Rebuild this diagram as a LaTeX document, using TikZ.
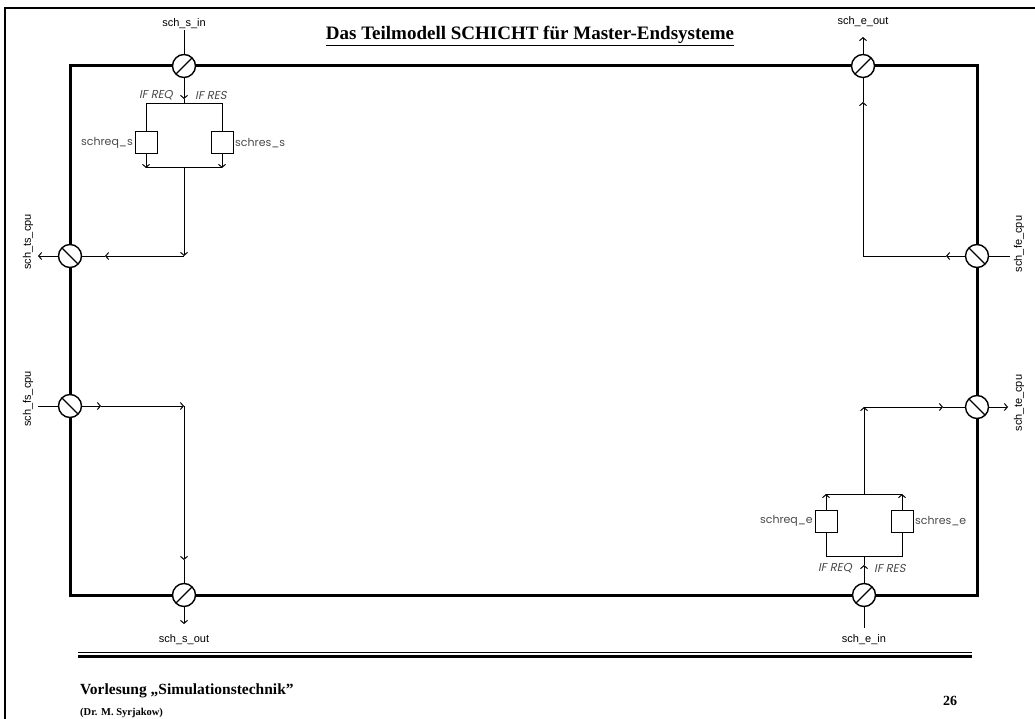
\documentclass[tikz,border=0pt]{standalone}
\usepackage{fontspec}
\setmainfont{Liberation Serif}
\newfontfamily\portfont{Liberation Sans}
\newfontfamily\inlblfont{Poppins}
\newfontfamily\inlblit{Poppins}[FakeSlant=0.2]
\usetikzlibrary{arrows.meta}
\definecolor{lblgray}{HTML}{4A4A4A}
\begin{document}
\begin{tikzpicture}[x=1pt,y=-1pt,
  thinline/.style={line width=1pt},
  arr/.style={thinline,-{Straight Barb[length=3pt,width=7pt]}},
  port/.style={circle,draw,fill=white,minimum size=23pt,inner sep=0pt,line width=1.4pt},
  slashup/.style={port,path picture={\draw[line width=1.3pt]
      (path picture bounding box.south west) -- (path picture bounding box.north east);}},
  slashdown/.style={port,path picture={\draw[line width=1.3pt]
      (path picture bounding box.north west) -- (path picture bounding box.south east);}},
  blk/.style={draw,fill=white,minimum size=22pt,inner sep=0pt,line width=1pt},
  portlbl/.style={font=\portfont\fontsize{11}{13}\selectfont,inner sep=1pt},
  inlbl/.style={font=\inlblfont\fontsize{11}{13}\selectfont,text=lblgray,inner sep=1.5pt},
  iflbl/.style={font=\inlblit\fontsize{11.5}{13}\selectfont,text=lblgray,inner sep=1pt},
  foot/.style={font=\bfseries,inner sep=0pt,anchor=base west}]
\useasboundingbox (0,0) rectangle (1035,719);

% page frame (top and left edges)
\draw[line width=2.2pt] (5,720) -- (5,8) -- (1036,8);

% title
\node[font=\bfseries\fontsize{19}{22}\selectfont,inner sep=0pt,anchor=base] (title) at (530,40)
  {\underline{Das Teilmodell SCHICHT für Master-Endsysteme}};

% outer boundary of the submodel
\draw[line width=3pt] (70,66) rectangle (977,595);

% ports
\node[slashup]   (sin)  at (184,66)  {};
\node[slashdown] (ts)   at (70,256)  {};
\node[slashdown] (fs)   at (70,406)  {};
\node[slashup]   (sout) at (184,595) {};
\node[slashup]   (eout) at (863,66)  {};
\node[slashdown] (fe)   at (977,256) {};
\node[slashdown] (te)   at (977,407) {};
\node[slashup]   (ein)  at (864,595) {};

% port labels
\node[portlbl] (lsin)  at (184,24)  {sch\_s\_in};
\node[portlbl] (lsout) at (184,640) {sch\_s\_out};
\node[portlbl] (leout) at (863,22)  {sch\_e\_out};
\node[portlbl] (lein)  at (864,640) {sch\_e\_in};
\node[portlbl,rotate=90] (lts) at (28,242)   {sch\_ts\_cpu};
\node[portlbl,rotate=90] (lfs) at (28,399)   {sch\_fs\_cpu};
\node[portlbl,rotate=90] (lfe) at (1019,244) {sch\_fe\_cpu};
\node[portlbl,rotate=90] (lte) at (1019,403) {sch\_te\_cpu};

% blocks
\node[blk] (rqs) at (146,143) {};
\node[blk] (rss) at (222,143) {};
\node[blk] (rqe) at (826,521) {};
\node[blk] (rse) at (902,521) {};
\node[inlbl,anchor=east] at (rqs.west) {schreq\_s};
\node[inlbl,anchor=west] at (rss.east) {schres\_s};
\node[inlbl,anchor=east] at (rqe.west) {schreq\_e};
\node[inlbl,anchor=west] at (rse.east) {schres\_e};
\node[iflbl,anchor=east] at (174,95)  {IF REQ};
\node[iflbl,anchor=west] at (194,95)  {IF RES};
\node[iflbl,anchor=east] at (853,568) {IF REQ};
\node[iflbl,anchor=west] at (873,568) {IF RES};

% junction points
\coordinate (sinA) at (184,99);
\coordinate (sp1)  at (184,104);
\coordinate (sp1l) at (146,104);
\coordinate (sp1r) at (222,104);
\coordinate (jl1)  at (146,168);
\coordinate (jr1)  at (222,168);
\coordinate (j1)   at (184,168);
\coordinate (c1)   at (184,256);
\coordinate (c1a)  at (105,256);
\coordinate (tsT)  at (38,256);
\coordinate (fsS)  at (38,406);
\coordinate (fsA)  at (101,406);
\coordinate (c2)   at (184,406);
\coordinate (c2a)  at (184,560);
\coordinate (soutT) at (184,624);
\coordinate (eoutT) at (863,37);
\coordinate (c3)   at (863,256);
\coordinate (c3a)  at (863,102);
\coordinate (feS)  at (1010,256);
\coordinate (feA)  at (946,256);
\coordinate (teT)  at (1008,407);
\coordinate (c4)   at (864,407);
\coordinate (teA)  at (943,407);
\coordinate (j2)   at (864,494);
\coordinate (jl2)  at (826,494);
\coordinate (jr2)  at (902,494);
\coordinate (sp2l) at (826,556);
\coordinate (sp2r) at (902,556);
\coordinate (sp2)  at (864,556);
\coordinate (einA) at (864,565);
\coordinate (einS) at (864,628);

% upper left: incoming requests and responses
\draw[thinline] (lsin.south) -- (sin.north);
\draw[arr] (sin.south) -- (sinA);
\draw[thinline] (sinA) -- (sp1);
\draw[thinline] (rqs.north) -- (sp1l) -- (sp1r) -- (rss.north);
\draw[arr] (rqs.south) -- (jl1);
\draw[arr] (rss.south) -- (jr1);
\draw[thinline] (jl1) -- (jr1);
\draw[arr] (j1) -- (c1);
\draw[arr] (c1) -- (c1a);
\draw[thinline] (c1a) -- (ts.east);
\draw[arr] (ts.west) -- (tsT);

% lower left: from the CPU to the output
\draw[thinline] (fsS) -- (fs.west);
\draw[arr] (fs.east) -- (fsA);
\draw[arr] (fsA) -- (c2);
\draw[arr] (c2) -- (c2a);
\draw[thinline] (c2a) -- (sout.north);
\draw[arr] (sout.south) -- (soutT);

% upper right: from the CPU to the output
\draw[arr] (eout.north) -- (eoutT);
\draw[thinline] (feS) -- (fe.east);
\draw[arr] (fe.west) -- (feA);
\draw[thinline] (feA) -- (c3);
\draw[arr] (c3) -- (c3a);
\draw[thinline] (c3a) -- (eout.south);

% lower right: incoming requests and responses
\draw[thinline] (einS) -- (ein.south);
\draw[arr] (ein.north) -- (einA);
\draw[thinline] (einA) -- (sp2);
\draw[thinline] (rqe.south) -- (sp2l) -- (sp2r) -- (rse.south);
\draw[arr] (rqe.north) -- (jl2);
\draw[arr] (rse.north) -- (jr2);
\draw[thinline] (jl2) -- (jr2);
\draw[arr] (j2) -- (c4);
\draw[arr] (c4) -- (teA);
\draw[thinline] (teA) -- (te.west);
\draw[arr] (te.east) -- (teT);

% footer rule
\draw[line width=0.8pt] (78,652.5) -- (972,652.5);
\draw[line width=3.2pt] (78,656.5) -- (972,656.5);

% footer text
\node[foot,font=\bfseries\fontsize{15.5}{17}\selectfont] (fl1) at (80,694) {Vorlesung „Simulationstechnik"};
\node[foot,font=\bfseries\fontsize{10.5}{12}\selectfont] (fl2) at (80,715) {(Dr. M. Syrjakow)};
\node[foot,font=\bfseries\fontsize{14}{16}\selectfont,anchor=base] (pg) at (950,705) {26};
\end{tikzpicture}
\end{document}
